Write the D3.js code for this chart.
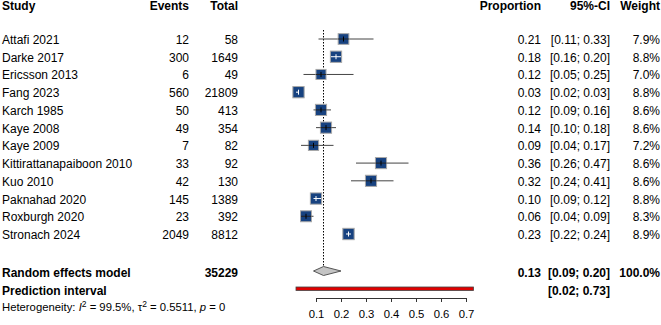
<!DOCTYPE html>
<html>
<head>
<meta charset="utf-8">
<script src="https://cdn.jsdelivr.net/npm/d3@7"></script>
<style>
  body { margin: 0; background: #fff; }
  text { font-family: "Liberation Sans", Arial, sans-serif; fill: #000; }
</style>
</head>
<body>
<div id="forest"></div>
<script>
// study level data
var studies = ["Attafi 2021", "Darke 2017", "Ericsson 2013", "Fang 2023", "Karch 1985", "Kaye 2008",
  "Kaye 2009", "Kittirattanapaiboon 2010", "Kuo 2010", "Paknahad 2020", "Roxburgh 2020", "Stronach 2024"];
var events = [12, 300, 6, 560, 50, 49, 7, 33, 42, 145, 23, 2049];
var totals = [58, 1649, 49, 21809, 413, 354, 82, 92, 130, 1389, 392, 8812];
var props = [0.21, 0.18, 0.12, 0.03, 0.12, 0.14, 0.09, 0.36, 0.32, 0.10, 0.06, 0.23];
var lowers = [0.11, 0.16, 0.05, 0.02, 0.09, 0.10, 0.04, 0.26, 0.24, 0.09, 0.04, 0.22];
var uppers = [0.33, 0.20, 0.25, 0.03, 0.16, 0.18, 0.17, 0.47, 0.41, 0.12, 0.09, 0.24];
var weights = [7.9, 8.8, 7.0, 8.8, 8.6, 8.6, 7.2, 8.6, 8.6, 8.8, 8.3, 8.9];

// pooled results
var pooled = { total: 35229, est: 0.13, lower: 0.09, upper: 0.20, weight: 100.0 };
var predInterval = [0.02, 0.73];
var axisTicks = [0.1, 0.2, 0.3, 0.4, 0.5, 0.6, 0.7];

var svgWidth = 661;
var svgHeight = 325;

var svg = d3.select("#forest")
  .append("svg")
  .attr("width", svgWidth)
  .attr("height", svgHeight);

var xScale = d3.scaleLinear()
  .domain([0, 0.7])
  .range([291, 466]);

var rowY = d3.scaleLinear()
  .domain([0, 11])
  .range([44, 239]);

var f2 = d3.format(".2f");
var ciText = (lo, hi) => "[" + f2(lo) + "; " + f2(hi) + "]";

var cols = {
  study: 2, events: 189, total: 238, prop: 541, ci: 610, weight: 660
};

// header
var header = svg.append("g").attr("font-weight", "bold").attr("font-size", "12px");
header.append("text").attr("x", cols.study).attr("y", 10).attr("font-weight", "bold").text("Study");
[["Events", cols.events], ["Total", cols.total], ["Proportion", cols.prop], ["95%-CI", cols.ci], ["Weight", cols.weight]]
  .forEach(h => {
    header.append("text")
      .attr("x", h[1])
      .attr("y", 10)
      .attr("text-anchor", "end")
      .attr("font-weight", "bold")
      .text(h[0]);
  });

var rows = svg.append("g").attr("font-size", "12px");
var idx = d3.range(studies.length);

function colText(x, anchor, fn) {
  rows.selectAll(null)
    .data(idx)
    .enter()
    .append("text")
    .attr("x", x)
    .attr("y", i => rowY(i))
    .attr("text-anchor", anchor)
    .text(fn);
}
colText(cols.study, "start", i => studies[i]);
colText(cols.events, "end", i => events[i]);
colText(cols.total, "end", i => totals[i]);
colText(cols.prop, "end", i => f2(props[i]));
colText(cols.ci, "end", i => ciText(lowers[i], uppers[i]));
colText(cols.weight, "end", i => weights[i].toFixed(1) + "%");

// pooled rows
var reY = 277;
var piY = 294.5;
var bold = svg.append("g").attr("font-size", "12px").attr("font-weight", "bold");
bold.append("text").attr("x", cols.study).attr("y", reY).attr("font-weight", "bold").text("Random effects model");
bold.append("text").attr("x", cols.total).attr("y", reY).attr("text-anchor", "end").attr("font-weight", "bold").text(pooled.total);
bold.append("text").attr("x", cols.prop).attr("y", reY).attr("text-anchor", "end").attr("font-weight", "bold").text(f2(pooled.est));
bold.append("text").attr("x", cols.ci).attr("y", reY).attr("text-anchor", "end").attr("font-weight", "bold").text(ciText(pooled.lower, pooled.upper));
bold.append("text").attr("x", cols.weight).attr("y", reY).attr("text-anchor", "end").attr("font-weight", "bold").text(pooled.weight.toFixed(1) + "%");
bold.append("text").attr("x", cols.study).attr("y", piY).attr("font-weight", "bold").text("Prediction interval");
bold.append("text").attr("x", cols.ci).attr("y", piY).attr("text-anchor", "end").attr("font-weight", "bold").text(ciText(predInterval[0], predInterval[1]));

// heterogeneity line
var het = svg.append("text")
  .attr("x", cols.study)
  .attr("y", 311)
  .attr("font-size", "11.3px");
het.append("tspan").text("Heterogeneity: ");
het.append("tspan").attr("font-style", "italic").text("I");
het.append("tspan").attr("dy", -4.5).attr("font-size", "8.5px").text("2");
het.append("tspan").attr("dy", 4.5).text(" = 99.5%, \u03c4");
het.append("tspan").attr("dy", -4.5).attr("font-size", "8.5px").text("2");
het.append("tspan").attr("dy", 4.5).text(" = 0.5511, ");
het.append("tspan").attr("font-style", "italic").text("p");
het.append("tspan").text(" = 0");

// reference line at pooled estimate
svg.append("line")
  .attr("x1", xScale(pooled.est))
  .attr("x2", xScale(pooled.est))
  .attr("y1", 30)
  .attr("y2", reY - 10)
  .attr("stroke", "#000")
  .attr("stroke-width", 1)
  .attr("stroke-dasharray", "1.5,1.5");

// study markers
var markY = i => rowY(i) - 5;
var side = i => 3.8 * Math.sqrt(weights[i]);
var inside = i => xScale(lowers[i]) >= xScale(props[i]) - side(i) / 2 && xScale(uppers[i]) <= xScale(props[i]) + side(i) / 2;

var marks = svg.append("g");
marks.selectAll("line.ci-out")
  .data(idx)
  .enter()
  .append("line")
  .attr("x1", i => xScale(lowers[i]))
  .attr("x2", i => xScale(uppers[i]))
  .attr("y1", markY)
  .attr("y2", markY)
  .attr("stroke", "#444");

marks.selectAll("rect")
  .data(idx)
  .enter()
  .append("rect")
  .attr("x", i => xScale(props[i]) - side(i) / 2)
  .attr("y", i => markY(i) - side(i) / 2)
  .attr("width", side)
  .attr("height", side)
  .attr("fill", "#174280")
  .attr("stroke", "#a8a8a8")
  .attr("stroke-width", 1);

marks.selectAll("line.ci-in")
  .data(idx)
  .enter()
  .append("line")
  .attr("x1", i => Math.max(xScale(lowers[i]), xScale(props[i]) - side(i) / 2))
  .attr("x2", i => Math.min(xScale(uppers[i]), xScale(props[i]) + side(i) / 2))
  .attr("y1", markY)
  .attr("y2", markY)
  .attr("stroke", i => inside(i) ? "#fff" : "#222");

marks.selectAll("line.est")
  .data(idx)
  .enter()
  .append("line")
  .attr("x1", i => xScale(props[i]))
  .attr("x2", i => xScale(props[i]))
  .attr("y1", i => markY(i) - 2.5)
  .attr("y2", i => markY(i) + 2.5)
  .attr("stroke", i => inside(i) ? "#fff" : "#000");

// pooled diamond
var dY = 271;
svg.append("polygon")
  .attr("points", [
    [xScale(pooled.lower), dY],
    [xScale(pooled.est), dY - 4.5],
    [xScale(pooled.upper), dY],
    [xScale(pooled.est), dY + 4.5]
  ].map(p => p.join(",")).join(" "))
  .attr("fill", "#c4c4c4")
  .attr("stroke", "#555");

// prediction interval bar
svg.append("rect")
  .attr("x", xScale(predInterval[0]))
  .attr("y", 287)
  .attr("width", xScale(predInterval[1]) - xScale(predInterval[0]))
  .attr("height", 3.5)
  .attr("fill", "#e00000")
  .attr("stroke", "#444")
  .attr("stroke-width", 0.8);

// x axis
var axisScale = d3.scaleLinear()
  .domain([0.1, 0.7])
  .range([xScale(0.1), xScale(0.7)]);

var xAxis = svg.append("g")
  .attr("transform", "translate(0, 298)")
  .call(d3.axisBottom(axisScale)
    .tickValues(axisTicks)
    .tickSize(4)
    .tickSizeOuter(0)
    .tickFormat(d3.format(".1f")));

xAxis.selectAll("path, line").attr("stroke", "#333");
xAxis.selectAll("text")
  .attr("font-size", "11.3px")
  .attr("font-family", "Liberation Sans, Arial, sans-serif")
  .attr("dy", "1.15em");
xAxis.attr("font-family", null);
</script>
</body>
</html>
